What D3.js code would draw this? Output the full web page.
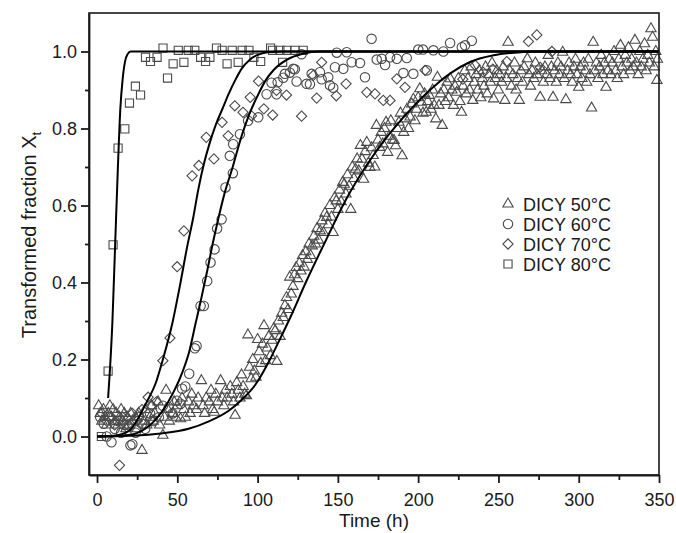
<!DOCTYPE html>
<html>
<head>
<meta charset="utf-8">
<script src="https://cdn.jsdelivr.net/npm/d3@7"></script>
<style>
  body { margin: 0; background: #fff; }
  svg { display: block; font-family: "Liberation Sans", Arial, sans-serif; }
  .axis text { font-size: 18px; fill: #1a1a1a; }
  .axis path, .axis line { stroke: #1a1a1a; stroke-width: 1.8; }
  .marker { fill: none; stroke: #4a4a4a; stroke-width: 1.1; }
  .fit { fill: none; stroke: #000; stroke-width: 2; }
</style>
</head>
<body>
<svg id="chart"></svg>
<script>
const dicy50 = [
  [1,0.08],[2,0.06],[3,0.04],[4,0.07],[5,0.05],[6,0.03],[7,0.06],[8,0.08],[9,0.05],[10,0.07],
  [11,0.04],[12,0.06],[13,0.03],[14,0.05],[15,0.07],[16,0.04],[17,0.06],[18,0.02],[19,0.05],[20,0.03],
  [21,0.06],[22,0.04],[24,0.05],[25,0.02],[26,0.06],[28,-0.036],[29,0.04],[30,0.07],[31,0.03],[33,0.05],
  [34,0.08],[35,0.04],[36,0.06],[38,0.09],[39,0.03],[41,0.003],[42,0.05],[43,0.12],[44,0.07],[45,0.04],
  [47,0.06],[48,0.09],[49,0.05],[50,0.08],[52,0.046],[53,0.1],[54,0.07],[55,0.05],[57,0.09],[58,0.06],
  [59,0.11],[60,0.08],[62,0.07],[63,0.1],[65,0.145],[66,0.08],[67,0.06],[68,0.1],[70,0.09],[71,0.12],
  [72,0.07],[73,0.063],[74,0.11],[75,0.09],[77,0.145],[78,0.1],[79,0.08],[80,0.12],[81,0.1],[83,0.13],
  [84,0.11],[85,0.09],[86,0.055],[87,0.14],[88,0.12],[89,0.1],[90,0.16],[91,0.13],[92,0.11],[93,0.106],
  [94,0.264],[95,0.18],[96,0.15],[97,0.2],[98,0.17],[99,0.154],[100,0.252],[101,0.22],[102,0.19],[103,0.24],
  [104,0.288],[105,0.197],[106,0.23],[107,0.26],[108,0.21],[109,0.25],[110,0.28],[111,0.275],[112,0.195],[113,0.3],
  [114,0.26],[115,0.32],[116,0.309],[117,0.34],[118,0.361],[119,0.33],[120,0.414],[121,0.37],[122,0.39],[123,0.42],
  [124,0.439],[125,0.41],[126,0.45],[127,0.43],[128,0.47],[129,0.44],[130,0.48],[131,0.46],[132,0.5],[133,0.47],
  [134,0.495],[135,0.52],[136,0.5],[137,0.54],[138,0.51],[139,0.534],[140,0.56],[141,0.53],[142,0.58],[143,0.569],
  [144,0.55],[145,0.6],[146,0.57],[147,0.53],[148,0.62],[149,0.612],[150,0.59],[151,0.64],[152,0.61],[153,0.66],
  [154,0.655],[155,0.63],[156,0.68],[157,0.65],[158,0.59],[159,0.7],[160,0.67],[161,0.694],[162,0.721],[163,0.69],
  [164,0.756],[165,0.72],[166,0.668],[167,0.74],[168,0.764],[169,0.71],[170,0.699],[171,0.75],[172,0.73],[173,0.7],
  [174,0.808],[175,0.77],[176,0.751],[177,0.79],[178,0.76],[179,0.8],[180,0.816],[181,0.738],[182,0.78],[183,0.82],
  [184,0.77],[185,0.769],[186,0.755],[187,0.8],[188,0.816],[189,0.84],[190,0.729],[191,0.79],[192,0.825],[193,0.85],
  [194,0.8],[195,0.83],[196,0.864],[197,0.876],[198,0.82],[199,0.85],[200,0.88],[201,0.903],[202,0.868],[203,0.84],
  [204,0.89],[205,0.842],[206,0.87],[207,0.886],[208,0.85],[209,0.9],[210,0.86],[211,0.825],[212,0.933],[213,0.86],
  [214,0.89],[215,0.808],[216,0.9],[217,0.87],[218,0.92],[219,0.88],[220,0.929],[221,0.9],[222,0.86],[223,0.91],
  [224,0.894],[225,0.93],[226,0.87],[227,0.842],[228,0.91],[229,0.95],[230,0.89],[231,0.93],[232,0.9],[233,0.96],
  [234,0.873],[235,0.92],[236,0.94],[237,0.9],[238,0.95],[239,0.88],[240,0.93],[241,0.91],[242,0.96],[243,0.89],
  [244,0.94],[245,0.92],[246,0.97],[247,0.877],[248,0.93],[249,0.95],[250,0.9],[251,0.94],[252,0.92],[253,0.96],
  [254,0.873],[255,0.93],[256,1.024],[257,0.95],[258,0.91],[259,0.94],[260,0.97],[261,0.9],[262,0.93],[263,0.873],
  [264,0.95],[265,0.92],[266,0.96],[268,0.981],[269,0.94],[270,0.91],[271,0.95],[272,0.93],[273,0.97],[274,0.94],
  [276,0.881],[277,0.95],[278,0.92],[279,0.96],[280,0.94],[281,0.99],[282,0.93],[283,0.96],[284,0.881],[285,0.95],
  [286,0.92],[287,0.97],[288,0.94],[289,0.96],[290,0.998],[291,0.93],[292,0.875],[293,0.95],[294,0.97],[295,0.94],
  [296,0.92],[297,0.96],[298,0.98],[299,0.94],[300,0.907],[301,0.96],[302,0.93],[303,0.97],[304,0.95],[305,0.92],
  [306,0.98],[307,0.94],[308,0.853],[309,1.024],[310,0.95],[311,0.97],[312,0.93],[313,0.96],[314,0.99],[315,0.94],
  [316,0.97],[317,0.907],[318,0.95],[319,0.98],[320,0.94],[321,0.97],[322,1.0],[323,0.95],[324,0.93],[325,0.98],
  [326,1.016],[327,0.96],[328,0.94],[329,0.99],[330,0.97],[331,1.01],[332,0.95],[333,0.98],[334,0.96],[335,1.029],
  [336,0.97],[337,0.94],[338,1.0],[339,0.96],[340,0.98],[341,1.02],[342,0.95],[343,0.99],[344,0.97],[345,1.059],
  [346,1.037],[347,0.96],[348,1.0],[348.7,0.925],[349,0.98]
];
const dicy60 = [
  [2,0.05],[4.2,0.033],[6,0.0],[9,-0.015],[11,0.02],[13,0.04],[15,0.01],[17,0.03],[20.8,-0.023],[22,-0.02],
  [24,0.01],[26,0.05],[28,0.033],[30,0.02],[33,0.06],[35,0.04],[38.5,0.05],[41,0.08],[44.7,0.076],[47,0.06],
  [49.9,0.093],[52,0.085],[53,0.124],[55,0.13],[57.4,0.163],[60.9,0.229],[62,0.235],[64.5,0.339],[66.5,0.339],[68.6,0.404],
  [70.7,0.452],[73.2,0.486],[74.8,0.54],[77.6,0.564],[80,0.647],[84.6,0.684],[82.7,0.729],[84.8,0.759],[89,0.785],[94.1,0.82],
  [100.4,0.829],[105.6,0.889],[108.7,0.919],[111.8,0.889],[112.5,0.92],[116,0.932],[117,0.942],[120.1,0.945],[122.2,0.955],[123.2,0.954],
  [124.3,0.922],[127.4,0.993],[130.5,0.916],[132.6,0.915],[133.7,0.942],[138.8,0.946],[139.9,0.928],[144,0.933],[145.1,0.912],[147.1,0.906],
  [148.2,0.959],[149.3,0.997],[153.4,0.955],[155.5,0.998],[158.6,0.972],[163.8,0.97],[166.9,0.933],[171,1.033],[174.2,0.979],[177.3,0.981],
  [179.4,0.965],[182.5,0.985],[186.7,0.981],[190.8,0.944],[192.9,0.983],[197,0.942],[200.1,1.005],[203,1.005],[205.4,0.951],[209.5,1.003],
  [215.7,1.0],[219.9,1.022],[227.2,1.011],[229.2,1.016],[233.4,1.028]
];
const dicy70 = [
  [3,0.06],[6,0.04],[8,0.05],[11,0.03],[14,-0.075],[16,0.05],[19,0.03],[22,0.06],[25,0.04],[28,0.07],
  [31.8,0.102],[34,0.08],[37,0.09],[41,0.197],[45.4,0.256],[49.9,0.441],[54.1,0.534],[59.2,0.677],[63.4,0.704],[68,0.777],
  [72.8,0.721],[77.9,0.816],[81.7,0.781],[85.8,0.859],[90.9,0.842],[95.4,0.881],[96.2,0.833],[100.6,0.923],[103.9,0.851],[109.4,0.835],
  [111.8,0.899],[118,0.887],[127.4,0.832],[134.7,0.938],[136.8,0.879],[139.9,0.972],[149,0.885],[155.1,0.916],[168,0.894],[173.1,0.89],
  [178.3,0.873],[182.5,0.873],[186.7,0.929],[191.8,0.907],[204.3,0.951],[227.8,0.928],[235.5,0.964],[240.6,0.946],[246.5,0.954],[255.2,0.974],
  [268.7,1.026],[273.9,1.043],[276,0.959],[283.3,1.0]
];
const dicy80 = [
  [2.7,0.0],[6.9,0.17],[10,0.498],[13.1,0.749],[17.3,0.799],[20.2,0.866],[23.9,0.91],[27.1,0.887],[30.2,0.985],[33.3,0.974],
  [37.4,0.985],[41.1,1.009],[43.9,0.931],[47.4,0.968],[50.6,1.003],[54.1,0.972],[56.8,1.003],[60.9,1.003],[64.5,0.985],[67.6,0.974],
  [70.3,0.985],[74.4,1.009],[77.9,1.003],[81,0.968],[84.2,1.003],[87.9,0.972],[90.4,1.003],[94.6,1.003],[97.7,0.985],[101.9,0.974],
  [108.1,1.009],[109.3,1.003],[113.9,1.003],[115.6,0.972],[118.1,1.003],[123.3,1.003],[128.4,1.003]
];

// ---- fitted curves ----
const fit50 = [[0,0],[20,0.002],[40,0.008],[57,0.02],[70,0.04],[82,0.067],[90,0.095],[98.7,0.135],[107.7,0.2],[113,0.245],
  [121,0.315],[130,0.4],[142,0.505],[155,0.615],[168,0.705],[180,0.775],[190,0.825],[199,0.866],[210,0.91],[220,0.943],
  [232,0.972],[247,0.99],[260,0.997],[275,1.0],[350,1.0]];
const fit60 = [[0,0],[20,0.004],[30,0.02],[40.5,0.065],[47,0.11],[53,0.165],[57.4,0.22],[61.3,0.292],[65,0.36],[68.6,0.43],
  [72,0.5],[75.5,0.565],[79,0.625],[84.5,0.7],[90,0.78],[94.6,0.835],[100,0.885],[105,0.925],[110,0.952],[118,0.978],
  [128,0.994],[139,1.0],[350,1.0]];
const fit70 = [[0,0],[10,0.002],[20,0.015],[26,0.05],[31,0.09],[36.4,0.137],[41,0.2],[46.8,0.292],[52,0.4],[56,0.49],
  [60,0.57],[63,0.64],[66.5,0.707],[70,0.76],[74,0.81],[78,0.85],[82,0.89],[86,0.925],[90,0.955],[95,0.978],
  [100,0.991],[106,0.998],[115,1.0],[350,1.0]];
const fit80 = [[6.9,0.1],[9.6,0.3],[11.3,0.5],[13,0.7],[14.5,0.85],[16,0.93],[17.5,0.975],[19,0.993],[21,1.0],[350,1.0]];

const seriesNames = ["DICY 50\u00B0C", "DICY 60\u00B0C", "DICY 70\u00B0C", "DICY 80\u00B0C"];
const xTicks = [0, 50, 100, 150, 200, 250, 300, 350];
const xMinorTicks = [25, 75, 125, 175, 225, 275, 325];
const yTicks = [0, 0.2, 0.4, 0.6, 0.8, 1.0];
const yMinorTicks = [0.1, 0.3, 0.5, 0.7, 0.9];

const width = 676, height = 533;
const margin = {top: 13, right: 17, bottom: 58, left: 89};
const innerW = width - margin.left - margin.right;
const innerH = height - margin.top - margin.bottom;

const svg = d3.select('#chart').attr('width', width).attr('height', height);
const chart = svg.append('g').attr('transform', `translate(${margin.left},${margin.top})`);

const x = d3.scaleLinear().domain([-5, 350]).range([0, innerW]);
const y = d3.scaleLinear().domain([-0.1, 1.1]).range([innerH, 0]);

// symbol generators (open markers)
const shapes = [
  {type: d3.symbolTriangle, size: 46, rotate: 0},
  {type: d3.symbolCircle, size: 70, rotate: 0},
  {type: d3.symbolSquare, size: 52, rotate: 45},
  {type: d3.symbolSquare, size: 66, rotate: 0}
];
const allData = [dicy50, dicy60, dicy70, dicy80];
const fits = [fit50, fit60, fit70, fit80];

// points
allData.forEach((data, i) => {
  const path = d3.symbol().type(shapes[i].type).size(shapes[i].size)();
  chart.append('g').selectAll('path')
    .data(data)
    .join('path')
      .attr('class', 'marker')
      .attr('d', path)
      .attr('transform', d => `translate(${x(d[0])},${y(d[1])}) rotate(${shapes[i].rotate})`);
});

// fitted curves on top
const line = d3.line()
  .x(d => x(d[0]))
  .y(d => y(d[1]))
  .curve(d3.curveMonotoneX);
chart.selectAll('.fit')
  .data(fits)
  .join('path')
    .attr('class', 'fit')
    .attr('d', line);

// frame
chart.append('rect')
  .attr('width', innerW).attr('height', innerH)
  .attr('fill', 'none').attr('stroke', '#1a1a1a').attr('stroke-width', 1.6);

// axes
chart.append('g')
    .attr('class', 'axis')
    .attr('transform', `translate(0,${innerH})`)
    .call(d3.axisBottom(x).tickValues(xTicks).tickSize(8).tickSizeOuter(0).tickPadding(10).tickFormat(d3.format('d')));
chart.append('g')
    .attr('class', 'axis')
    .attr('transform', `translate(0,${innerH})`)
    .call(d3.axisBottom(x).tickValues(xMinorTicks).tickSize(5).tickFormat(''))
    .call(g => g.select('.domain').remove());
chart.append('g')
    .attr('class', 'axis')
    .call(d3.axisLeft(y).tickValues(yTicks).tickSize(8).tickSizeOuter(0).tickPadding(4).tickFormat(d3.format('.1f')));
chart.append('g')
    .attr('class', 'axis')
    .call(d3.axisLeft(y).tickValues(yMinorTicks).tickSize(4).tickFormat(''))
    .call(g => g.select('.domain').remove());

// axis titles
svg.append('text')
    .attr('x', margin.left + innerW / 2)
    .attr('y', 527)
    .attr('text-anchor', 'middle')
    .attr('font-size', 19)
    .attr('fill', '#1a1a1a')
    .text('Time (h)');

const yTitle = svg.append('text')
    .attr('transform', `translate(36,${margin.top + 222}) rotate(-90)`)
    .attr('text-anchor', 'middle')
    .attr('font-size', 20)
    .attr('fill', '#1a1a1a');
yTitle.append('tspan').text('Transformed fraction X');
yTitle.append('tspan').attr('font-size', 13).attr('dy', 5).text('t');

// legend
const legend = svg.append('g').attr('transform', 'translate(508,204)');
seriesNames.forEach((name, i) => {
  const row = legend.append('g').attr('transform', `translate(0,${i * 20})`);
  row.append('path')
    .attr('class', 'marker')
    .attr('d', d3.symbol().type(shapes[i].type).size(shapes[i].size)())
    .attr('transform', `rotate(${shapes[i].rotate})`);
  row.append('text')
    .attr('x', 15)
    .attr('y', 6.5)
    .attr('font-size', 18)
    .attr('fill', '#1a1a1a')
    .text(name);
});
</script>
</body>
</html>
